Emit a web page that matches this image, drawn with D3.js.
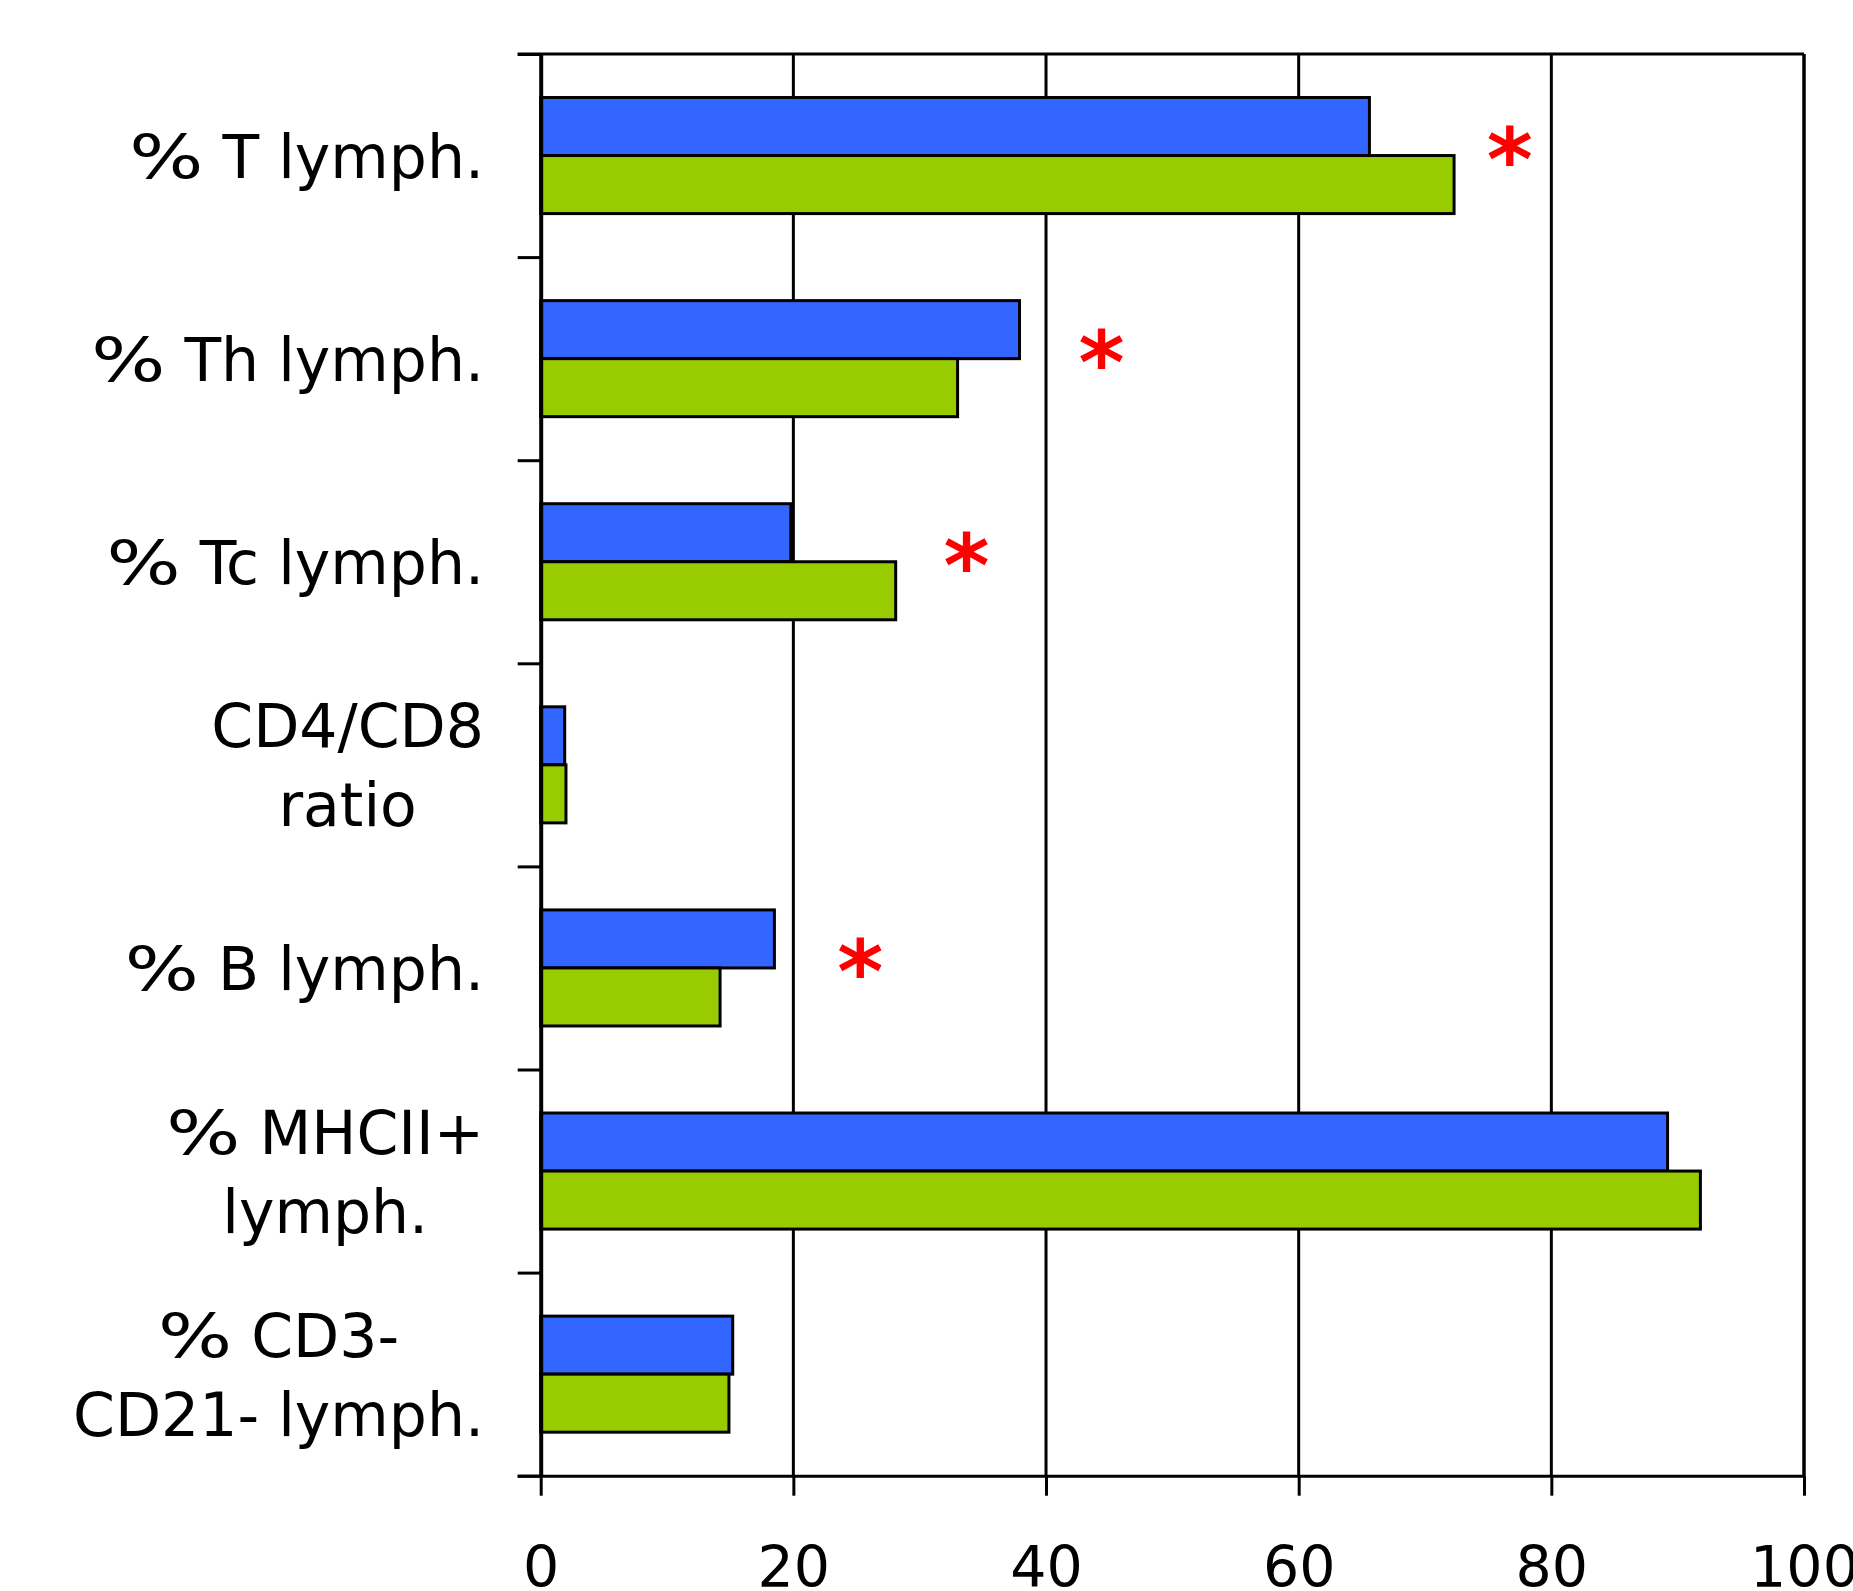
<!DOCTYPE html>
<html>
<head>
<meta charset="utf-8">
<script src="https://cdn.jsdelivr.net/npm/d3@7"></script>
<style>
  html, body { margin: 0; padding: 0; background: #fff; }
  svg { display: block; }
  text { font-family: "DejaVu Sans", Verdana, sans-serif; }
</style>
</head>
<body>
<svg id="chart" width="1853" height="1591"></svg>
<script>
// ---- data ----
const categories = [
  ["% T lymph."],
  ["% Th lymph."],
  ["% Tc lymph."],
  ["CD4/CD8", "ratio"],
  ["% B lymph."],
  ["% MHCII+", "lymph."],
  ["% CD3-", "CD21- lymph."]
];
const seriesNames = ["blue", "green"];
const blueValues  = [65.6, 37.9, 19.8, 1.9, 18.5, 89.2, 15.2];
const greenValues = [72.3, 33.0, 28.1, 2.0, 14.2, 91.8, 14.9];
const xTicks = [0, 20, 40, 60, 80, 100];
// significance markers: category index and x position (data units)
const starCategory = [0, 1, 2, 4];
const starX        = [76.7, 44.4, 33.7, 25.3];

(function () {
// ---- layout ----
const pLeft = 540.7, pRight = 1804, pTop = 54, pBottom = 1475.7;
const colors = { blue: "#3366FF", green: "#99CC00" };

const svg = d3.select("#chart");
const catKeys = categories.map((c, i) => i);

const x = d3.scaleLinear().domain([0, 100]).range([pLeft, pRight]);
const y = d3.scaleBand().domain(catKeys).range([pTop, pBottom]).padding(0);
const sub = d3.scaleBand().domain(seriesNames).range([0, y.bandwidth()])
  .paddingInner(0).paddingOuter(0.75);

// gridlines
svg.append("g").selectAll("line").data(xTicks.filter(t => t > 0))
  .join("line")
  .attr("x1", d => x(d)).attr("x2", d => x(d))
  .attr("y1", pTop).attr("y2", pBottom)
  .attr("stroke", "#000").attr("stroke-width", 3);

// top border
svg.append("line").attr("x1", pLeft - 23).attr("x2", pRight)
  .attr("y1", pTop).attr("y2", pTop)
  .attr("stroke", "#000").attr("stroke-width", 3);

// bars
const rows = catKeys.map(i => ({ i, values: [
  { s: "blue", v: blueValues[i] }, { s: "green", v: greenValues[i] }
]}));
const g = svg.append("g");
g.selectAll("g.cat").data(rows).join("g")
  .attr("transform", d => `translate(0,${y(d.i)})`)
  .selectAll("rect").data(d => d.values).join("rect")
  .attr("x", x(0))
  .attr("y", d => sub(d.s))
  .attr("width", d => x(d.v) - x(0))
  .attr("height", sub.bandwidth())
  .attr("fill", d => colors[d.s])
  .attr("stroke", "#000").attr("stroke-width", 3);

// x axis (bottom)
const xAxis = d3.axisBottom(x).tickValues(xTicks).tickSize(20).tickPadding(50)
  .tickFormat(d3.format("d"));
const gx = svg.append("g").attr("transform", `translate(0,${pBottom})`).call(xAxis);
gx.select(".domain").attr("d", `M${pLeft - 23},0.5H${pRight}`).attr("stroke-width", 3);
gx.selectAll(".tick line").attr("stroke-width", 3);
gx.selectAll(".tick text")
  .attr("font-family", "DejaVu Sans")
  .attr("font-size", 57)
  .attr("fill", "#000")
  .attr("dy", null)
  .attr("y", 111);

// y axis (left) with ticks at band boundaries
const boundaries = catKeys.map(i => y(i)).concat([pBottom]);
const yb = d3.scaleLinear().domain([pTop, pBottom]).range([pTop, pBottom]);
const yAxis = d3.axisLeft(yb).tickValues(boundaries).tickSize(23).tickFormat("");
const gy = svg.append("g").attr("transform", `translate(${pLeft},0)`).call(yAxis);
gy.select(".domain").attr("d", `M0.5,${pTop}V${pBottom}`).attr("stroke-width", 4);
gy.selectAll(".tick line").attr("stroke-width", 3);

// right border
svg.append("line").attr("x1", pRight).attr("x2", pRight)
  .attr("y1", pTop).attr("y2", pBottom)
  .attr("stroke", "#000").attr("stroke-width", 3);

// category labels (the "%" sign is drawn wider, as in the Verdana original)
const fs = 60, capH = 44, lineH = 79, labelRight = 484;
const lg = svg.append("g");
categories.forEach((lines, i) => {
  const cy = y(i) + y.bandwidth() / 2;
  const t = lg.append("text").attr("font-size", fs).attr("fill", "#000");
  const spans = lines.map(ln => {
    const s = t.append("tspan");
    if (ln.startsWith("%")) {
      const p = s.append("tspan").text("%");
      const pw = p.node().getComputedTextLength();
      p.attr("textLength", pw * 1.3).attr("lengthAdjust", "spacingAndGlyphs");
      s.append("tspan").text(ln.slice(1));
    } else {
      s.text(ln);
    }
    return s;
  });
  const widths = spans.map(s => s.node().getComputedTextLength());
  const maxW = d3.max(widths);
  const cx = labelRight - maxW / 2;
  const firstBase = cy + capH / 2 - (lines.length - 1) * lineH / 2;
  spans.forEach((s, k) => {
    s.attr("x", cx).attr("y", firstBase + k * lineH).attr("text-anchor", "middle");
  });
});

// significance asterisks
svg.append("g").selectAll("text").data(starCategory.map((c, k) => ({ c, v: starX[k] })))
  .join("text")
  .attr("x", d => x(d.v))
  .attr("y", d => y(d.c) + y.bandwidth() / 2 + 34)
  .attr("text-anchor", "middle")
  .attr("font-size", 88)
  .attr("font-weight", "bold")
  .attr("fill", "#FF0000")
  .text("*");
})();
</script>
</body>
</html>
